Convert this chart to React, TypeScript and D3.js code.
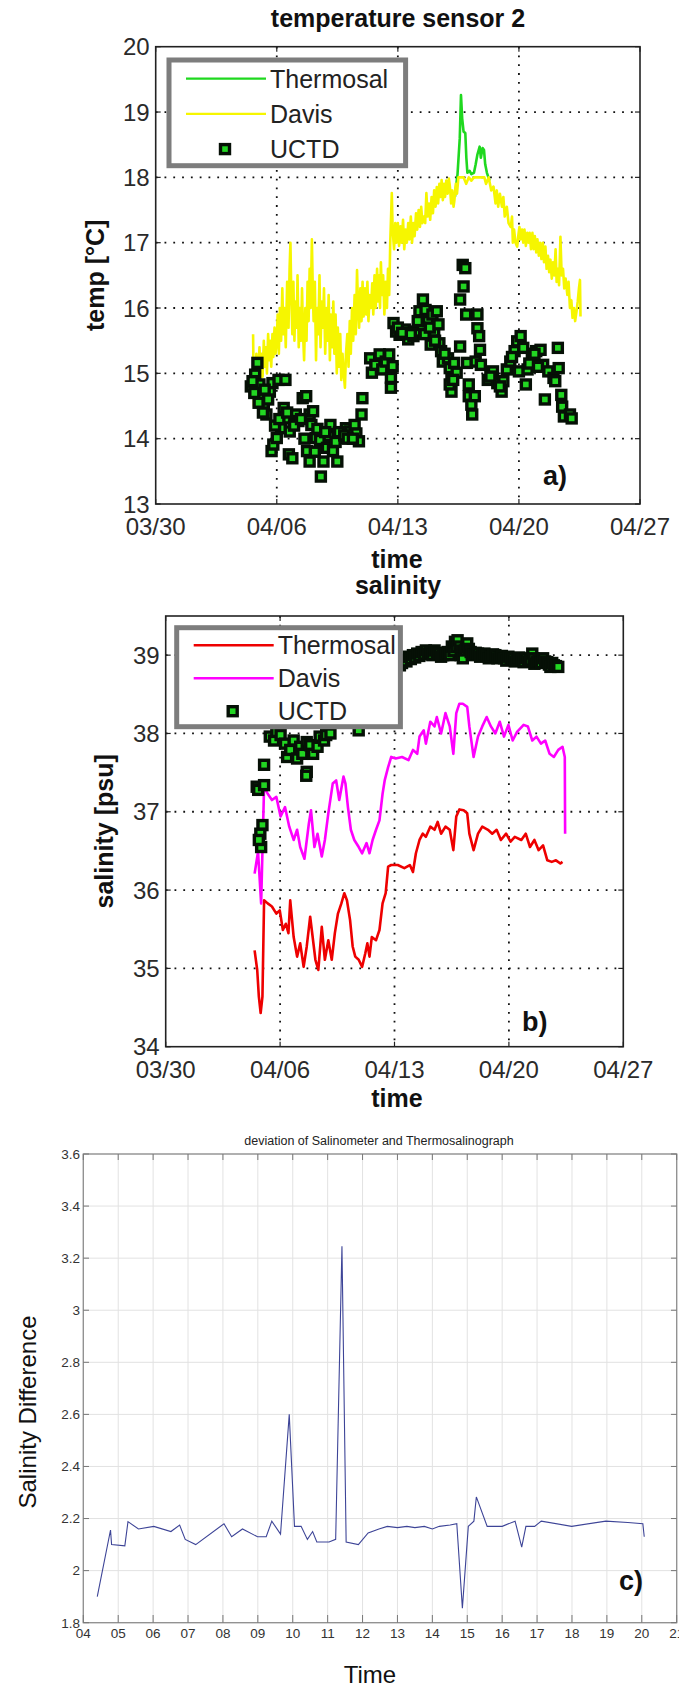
import * as d3 from "d3";

const FONT = "'Liberation Sans', Arial, Helvetica, sans-serif";

// shared date axis (day of April 2011, -1 = 03/30)
const dateTicks = [-1, 6, 13, 20, 27];
const dateLabels = ["03/30", "04/06", "04/13", "04/20", "04/27"];

const tempTicks = [13, 14, 15, 16, 17, 18, 19, 20];
const salTicks = [34, 35, 36, 37, 38, 39];
const diffTicks = [1.8, 2, 2.2, 2.4, 2.6, 2.8, 3, 3.2, 3.4, 3.6];
const diffTickLabels = ["1.8", "2", "2.2", "2.4", "2.6", "2.8", "3", "3.2", "3.4", "3.6"];
const dayTicks = [4, 5, 6, 7, 8, 9, 10, 11, 12, 13, 14, 15, 16, 17, 18, 19, 20, 21];
const dayLabels = ["04", "05", "06", "07", "08", "09", "10", "11", "12", "13", "14", "15", "16", "17", "18", "19", "20", "21"];

// a) temperature
const thermosalTemp: [number, number][] = [
  [16.3, 17.7], [16.45, 18.05], [16.58, 18.6], [16.65, 19.26], [16.72, 18.9], [16.8, 18.7],
  [16.9, 18.68], [16.96, 18.3], [17.02, 18.07], [17.15, 18.1], [17.25, 18.05], [17.4, 18.07],
  [17.5, 18.2], [17.6, 18.35], [17.73, 18.47], [17.8, 18.3], [17.9, 18.45], [17.98, 18.42],
  [18.05, 18.2], [18.15, 18.07], [18.3, 17.95],
];

const davisTemp: [number, number][] = [
  [4.63, 15.6], [4.68, 14.5], [4.72, 15.1], [4.76, 14.7], [4.82, 15.3], [4.86, 14.8], [4.92, 15.0],
  [5.0, 15.4], [5.05, 14.9], [5.12, 15.3], [5.18, 14.95], [5.25, 15.5], [5.3, 15.1], [5.37, 15.4],
  [5.43, 15.0], [5.5, 15.6], [5.56, 15.2], [5.62, 15.5], [5.68, 15.1], [5.75, 15.6], [5.8, 15.25],
  [5.87, 15.7], [5.93, 15.3], [6.0, 15.5], [6.05, 15.9], [6.12, 15.3], [6.18, 16.0], [6.25, 15.5],
  [6.32, 16.3], [6.38, 15.6], [6.45, 16.0], [6.52, 15.4], [6.6, 16.4], [6.68, 15.7], [6.74, 16.6],
  [6.79, 17.0], [6.84, 16.2], [6.9, 15.6], [6.96, 16.4], [7.02, 15.5], [7.08, 16.1], [7.15, 15.7],
  [7.2, 16.5], [7.27, 15.4], [7.33, 16.0], [7.4, 15.5], [7.46, 16.3], [7.52, 15.6], [7.58, 15.2],
  [7.65, 16.0], [7.72, 15.5], [7.78, 16.4], [7.84, 15.8], [7.9, 16.6], [7.96, 16.0], [8.03, 17.05],
  [8.08, 16.3], [8.13, 15.8], [8.2, 16.4], [8.27, 15.2], [8.33, 16.0], [8.4, 15.6], [8.47, 16.5],
  [8.53, 15.4], [8.6, 16.1], [8.67, 15.7], [8.73, 16.3], [8.8, 15.3], [8.87, 16.0], [8.93, 15.5],
  [9.0, 16.2], [9.07, 15.2], [9.13, 15.9], [9.2, 15.4], [9.27, 16.1], [9.33, 15.3], [9.4, 15.9],
  [9.47, 15.0], [9.53, 15.7], [9.6, 15.1], [9.67, 15.6], [9.73, 14.9], [9.8, 15.3], [9.87, 15.0],
  [9.94, 14.78], [10.0, 15.3], [10.08, 15.6], [10.15, 15.1], [10.22, 15.8], [10.28, 15.3],
  [10.35, 16.0], [10.42, 15.5], [10.5, 16.2], [10.57, 15.6], [10.64, 16.58], [10.7, 16.0],
  [10.76, 15.7], [10.83, 16.3], [10.9, 15.8], [10.96, 16.4], [11.02, 15.87], [11.1, 16.3],
  [11.17, 15.9], [11.24, 16.4], [11.3, 15.8], [11.37, 16.2], [11.45, 16.0], [11.52, 16.38],
  [11.58, 15.9], [11.65, 16.5], [11.72, 16.0], [11.8, 16.6], [11.86, 16.1], [11.92, 16.5],
  [11.97, 16.0], [12.02, 16.7], [12.08, 16.2], [12.15, 16.5], [12.22, 15.9], [12.3, 16.4],
  [12.37, 16.0], [12.43, 16.6], [12.5, 16.2], [12.56, 17.0], [12.65, 17.76], [12.7, 17.2],
  [12.78, 16.9], [12.85, 17.3], [12.92, 17.0], [13.0, 17.3], [13.07, 16.95], [13.15, 17.25],
  [13.22, 17.0], [13.3, 17.35], [13.37, 16.9], [13.45, 17.2], [13.52, 17.0], [13.6, 17.3],
  [13.67, 17.05], [13.75, 17.4], [13.82, 17.0], [13.9, 17.3], [13.97, 17.1], [14.05, 17.45],
  [14.12, 17.2], [14.2, 17.5], [14.28, 17.24], [14.35, 17.55], [14.42, 17.3], [14.5, 17.4],
  [14.58, 17.3], [14.65, 17.76], [14.72, 17.4], [14.8, 17.6], [14.87, 17.35], [14.95, 17.7],
  [15.03, 17.45], [15.1, 17.8], [15.18, 17.55], [15.25, 17.85], [15.33, 17.6], [15.4, 17.9],
  [15.47, 17.7], [15.53, 17.96], [15.6, 17.65], [15.67, 17.9], [15.73, 17.7], [15.8, 17.95],
  [15.88, 17.75], [15.95, 17.98], [16.01, 17.86], [16.08, 17.6], [16.15, 17.8], [16.22, 17.55],
  [16.27, 17.65], [16.35, 17.9], [16.42, 17.75], [16.5, 18.0], [16.6, 18.0], [16.8, 18.0],
  [16.95, 17.9], [17.1, 18.0], [17.25, 17.95], [17.4, 18.0], [17.6, 18.0], [17.8, 18.0],
  [18.0, 18.0], [18.1, 17.9], [18.25, 18.0], [18.4, 17.8], [18.53, 17.86], [18.65, 17.6],
  [18.72, 17.8], [18.8, 17.55], [18.9, 17.75], [19.02, 17.55], [19.1, 17.7], [19.18, 17.4],
  [19.3, 17.55], [19.4, 17.3], [19.53, 17.24], [19.6, 17.4], [19.65, 17.0], [19.72, 17.2],
  [19.8, 17.0], [19.9, 16.94], [19.96, 17.1], [20.03, 17.24], [20.1, 17.05], [20.18, 17.2],
  [20.25, 17.0], [20.32, 17.2], [20.4, 16.95], [20.48, 17.15], [20.55, 17.0], [20.62, 17.15],
  [20.7, 16.9], [20.78, 17.15], [20.85, 16.9], [20.92, 17.1], [21.0, 16.85], [21.07, 17.05],
  [21.15, 16.8], [21.22, 17.0], [21.3, 16.75], [21.38, 17.0], [21.45, 16.7], [21.53, 16.94],
  [21.6, 16.6], [21.68, 16.8], [21.75, 16.55], [21.82, 16.74], [21.9, 16.45], [21.97, 16.7],
  [22.05, 16.5], [22.12, 16.9], [22.18, 16.4], [22.25, 16.6], [22.32, 16.35], [22.4, 17.09],
  [22.47, 16.5], [22.55, 16.6], [22.62, 16.3], [22.7, 16.45], [22.8, 16.2], [22.87, 16.4],
  [22.95, 16.0], [23.03, 16.12], [23.1, 15.85], [23.18, 16.0], [23.25, 15.8], [23.33, 15.95],
  [23.4, 16.1], [23.47, 16.3], [23.53, 16.43], [23.56, 15.87],
];

const uctdTemp: [number, number][] = [
  [4.88, 15.16], [4.75, 14.98], [4.5, 14.8], [5.0, 14.83], [4.6, 14.88], [5.1, 14.62], [5.25, 14.52],
  [5.4, 14.37], [5.6, 14.72], [5.75, 14.85], [6.1, 14.9], [6.5, 14.9], [5.7, 13.81], [5.8, 13.91],
  [6.0, 14.01], [6.25, 14.16], [6.4, 14.47], [6.5, 14.31], [6.75, 14.11], [6.7, 13.76], [6.9, 13.7],
  [7.1, 14.37], [7.25, 14.27], [7.5, 14.62], [7.7, 14.65], [7.9, 14.37], [8.0, 14.21], [7.75, 13.81],
  [7.9, 13.65], [8.25, 14.01], [8.5, 13.98], [8.55, 13.42], [8.7, 13.65], [8.9, 13.86], [9.0, 14.04],
  [9.25, 13.81], [9.5, 13.65], [9.75, 14.01], [10.0, 14.16], [10.25, 14.11], [10.5, 14.21],
  [10.6, 14.08], [10.75, 13.96], [10.9, 14.37], [10.95, 14.62], [8.1, 14.42], [9.1, 14.21],
  [5.9, 14.2], [6.15, 14.3], [6.6, 14.4], [7.0, 14.2], [7.4, 14.3], [7.6, 14.0], [8.2, 13.8],
  [8.35, 14.15], [8.8, 14.1], [9.4, 13.95], [9.6, 14.1], [9.9, 14.05], [10.1, 14.0], [10.4, 14.0],
  [4.7, 14.7], [4.95, 14.55], [5.2, 14.4], [5.5, 14.6], [5.3, 14.75],
  [11.4, 15.23], [11.5, 15.01], [11.7, 15.13], [11.95, 15.29], [12.1, 15.06], [12.3, 15.18],
  [12.5, 15.29], [12.6, 14.93], [12.7, 15.11], [12.6, 14.78], [12.75, 15.77], [12.9, 15.64],
  [13.1, 15.59], [13.4, 15.67], [13.6, 15.52], [13.9, 15.57], [14.0, 15.64], [14.25, 15.95],
  [14.45, 16.13], [14.6, 15.97], [14.4, 15.74], [14.75, 15.8], [15.0, 15.9], [15.1, 15.64],
  [15.25, 15.95], [14.9, 15.44], [15.4, 15.46], [15.5, 15.34], [15.6, 15.18], [15.9, 15.23],
  [16.0, 15.08], [16.1, 14.93], [16.1, 14.72], [16.0, 14.83], [16.25, 15.16], [16.4, 15.01],
  [16.6, 15.41], [16.6, 16.13], [16.75, 16.66], [16.9, 16.61], [16.8, 16.33], [16.95, 15.9],
  [17.0, 15.16], [17.1, 14.83], [17.1, 14.65], [17.25, 14.52], [17.3, 14.37], [17.45, 14.65],
  [17.5, 15.18], [17.6, 15.9], [17.6, 15.69], [17.75, 15.36], [17.8, 15.13], [17.7, 15.57],
  [13.0, 15.7], [13.25, 15.62], [13.75, 15.6], [14.15, 15.8], [14.55, 15.6], [14.85, 15.7],
  [15.15, 15.5], [15.35, 15.75], [15.7, 15.3], [16.2, 14.9],
  [18.2, 14.9], [18.5, 15.03], [18.75, 14.85], [19.0, 14.72], [19.1, 14.88], [19.3, 15.06],
  [19.5, 15.18], [19.75, 15.34], [19.9, 15.49], [20.1, 15.57], [20.25, 15.39], [20.0, 15.03],
  [20.4, 14.83], [20.5, 15.06], [20.75, 15.23], [21.0, 15.34], [21.25, 15.36], [21.4, 15.13],
  [21.5, 14.6], [21.7, 15.03], [22.0, 14.93], [22.1, 14.88], [22.25, 15.39], [22.3, 15.08],
  [22.45, 14.67], [22.5, 14.49], [22.6, 14.34], [22.95, 14.37], [23.05, 14.31],
  [18.35, 14.95], [18.9, 14.8], [19.6, 15.25], [20.6, 15.15], [20.9, 15.3], [21.1, 15.1],
];

// b) salinity
const thermosalSal: [number, number][] = [
  [4.44, 35.23], [4.6, 34.98], [4.7, 34.64], [4.81, 34.43], [4.92, 34.64], [5.02, 35.87],
  [5.24, 35.83], [5.5, 35.79], [5.77, 35.7], [5.98, 35.74], [6.17, 35.49], [6.35, 35.57],
  [6.51, 35.45], [6.62, 35.87], [6.83, 35.4], [7.04, 35.15], [7.23, 35.32], [7.44, 35.02],
  [7.63, 35.28], [7.84, 35.66], [7.94, 35.49], [8.16, 35.11], [8.34, 34.98], [8.55, 35.53],
  [8.74, 35.11], [8.95, 35.36], [9.16, 35.11], [9.35, 35.45], [9.54, 35.7], [9.75, 35.83],
  [9.93, 35.96], [10.09, 35.87], [10.28, 35.62], [10.44, 35.28], [10.6, 35.15], [10.81, 35.11],
  [11.02, 35.02], [11.21, 35.19], [11.34, 35.32], [11.47, 35.15], [11.61, 35.4], [11.87, 35.36],
  [12.08, 35.49], [12.27, 35.83], [12.46, 35.96], [12.61, 36.3], [12.8, 36.32], [13.2, 36.32],
  [13.6, 36.28], [13.94, 36.32], [14.13, 36.23], [14.31, 36.47], [14.53, 36.64], [14.73, 36.72],
  [14.92, 36.68], [15.19, 36.81], [15.45, 36.77], [15.64, 36.87], [15.85, 36.72], [16.12, 36.81],
  [16.38, 36.77], [16.6, 36.51], [16.78, 36.94], [16.97, 37.03], [17.23, 37.02], [17.45, 36.98],
  [17.58, 36.72], [17.84, 36.51], [18.11, 36.72], [18.37, 36.81], [18.72, 36.77], [18.98, 36.72],
  [19.25, 36.77], [19.51, 36.64], [19.83, 36.72], [20.1, 36.62], [20.36, 36.68], [20.76, 36.64],
  [21.03, 36.72], [21.29, 36.55], [21.56, 36.64], [21.82, 36.51], [22.09, 36.57], [22.35, 36.38],
  [22.62, 36.36], [22.88, 36.38], [23.15, 36.34], [23.28, 36.36],
];

const davisSal: [number, number][] = [
  [4.44, 36.21], [4.65, 36.49], [4.84, 35.83], [5.02, 37.32], [5.24, 37.23], [5.5, 37.15],
  [5.77, 37.19], [6.03, 36.94], [6.3, 37.06], [6.56, 36.81], [6.83, 36.64], [7.04, 36.77],
  [7.23, 36.55], [7.49, 36.4], [7.76, 36.85], [7.89, 37.02], [8.1, 36.55], [8.29, 36.72],
  [8.55, 36.43], [8.74, 36.64], [8.95, 36.98], [9.22, 37.36], [9.43, 37.4], [9.62, 37.15],
  [9.88, 37.45], [10.0, 37.36], [10.15, 37.06], [10.33, 36.77], [10.54, 36.64], [10.81, 36.55],
  [11.02, 36.47], [11.29, 36.6], [11.47, 36.47], [11.66, 36.64], [11.87, 36.77], [12.08, 36.89],
  [12.27, 37.23], [12.4, 37.4], [12.61, 37.57], [12.8, 37.7], [13.07, 37.68], [13.46, 37.7],
  [13.86, 37.66], [14.13, 37.79], [14.39, 37.74], [14.53, 37.96], [14.79, 38.04], [14.92, 37.87],
  [15.19, 38.15], [15.45, 38.09], [15.59, 38.21], [15.85, 38.0], [16.12, 38.26], [16.38, 38.09],
  [16.6, 37.74], [16.78, 38.26], [16.97, 38.38], [17.18, 38.38], [17.45, 38.34], [17.58, 38.09],
  [17.84, 37.7], [18.11, 37.96], [18.37, 38.09], [18.64, 38.21], [18.9, 38.09], [19.17, 38.0],
  [19.44, 38.15], [19.7, 37.96], [19.97, 38.11], [20.23, 37.91], [20.5, 38.02], [20.9, 38.11],
  [21.16, 38.09], [21.43, 37.91], [21.69, 37.96], [21.96, 37.87], [22.22, 37.91], [22.49, 37.74],
  [22.75, 37.7], [23.02, 37.79], [23.28, 37.83], [23.42, 37.7], [23.44, 36.72],
];

const uctdSal: [number, number][] = [
  [4.57, 37.32], [4.66, 37.28], [5.02, 37.34], [5.02, 37.6], [4.92, 36.83], [4.79, 36.72],
  [4.84, 36.55], [4.7, 36.64], [7.63, 37.51], [7.6, 37.46], [5.37, 37.96], [5.63, 37.91],
  [5.77, 38.02], [6.03, 37.98], [6.3, 37.87], [6.43, 37.7], [6.62, 37.79], [6.83, 37.91],
  [7.04, 37.68], [7.23, 37.83], [7.36, 37.74], [7.63, 37.89], [7.84, 37.85], [8.02, 37.74],
  [8.29, 37.83], [8.42, 37.96], [8.69, 37.91], [8.82, 37.98], [9.08, 38.0], [10.81, 38.04],
  [13.33, 38.87], [13.46, 38.9], [13.6, 38.94], [13.73, 38.92], [13.86, 38.98], [14.0, 38.95],
  [14.13, 39.0], [14.26, 38.97], [14.39, 39.02], [14.52, 38.99], [14.66, 39.04], [14.79, 39.01],
  [14.92, 39.06], [15.05, 39.02], [15.19, 39.04], [15.32, 39.0], [15.45, 39.06], [15.58, 39.03],
  [15.72, 39.02], [15.85, 38.98], [15.98, 39.0], [16.12, 39.02], [16.25, 39.04], [16.38, 39.0],
  [16.51, 39.11], [16.6, 39.05], [16.7, 39.17], [16.78, 39.1], [16.86, 39.19], [16.97, 39.11],
  [17.05, 39.0], [17.12, 39.06], [17.18, 38.96], [17.31, 39.06], [17.38, 39.1], [17.45, 39.15],
  [17.55, 39.08], [17.66, 39.04], [17.75, 39.01], [17.84, 39.0], [17.97, 39.03], [18.11, 39.02],
  [18.24, 38.98], [18.37, 39.0], [18.5, 39.02], [18.64, 38.99], [18.77, 38.96], [18.9, 38.98],
  [19.03, 39.01], [19.17, 39.0], [19.3, 38.96], [19.44, 38.97], [19.57, 38.99], [19.7, 38.96],
  [19.84, 38.93], [19.97, 38.98], [20.1, 38.95], [20.23, 38.96], [20.36, 38.92], [20.5, 38.94],
  [20.63, 38.97], [20.76, 38.94], [20.9, 38.91], [21.03, 38.96], [21.16, 38.92], [21.29, 38.93],
  [21.43, 39.02], [21.5, 38.96], [21.56, 38.89], [21.69, 38.92], [21.82, 38.94], [21.96, 38.9],
  [22.09, 38.96], [22.22, 38.92], [22.35, 38.91], [22.45, 38.88], [22.54, 38.85], [22.65, 38.9],
  [22.75, 38.87], [22.88, 38.86], [23.02, 38.85],
];

// c) salinometer - thermosalinograph
const salDiff: [number, number][] = [
  [4.4, 1.9], [4.78, 2.156], [4.81, 2.1], [5.19, 2.095], [5.28, 2.188], [5.58, 2.16], [6.02, 2.17],
  [6.51, 2.15], [6.76, 2.175], [6.92, 2.12], [7.22, 2.1], [8.03, 2.18], [8.25, 2.13], [8.56, 2.16],
  [8.99, 2.13], [9.24, 2.13], [9.4, 2.19], [9.65, 2.14], [9.9, 2.6], [10.05, 2.17], [10.24, 2.17],
  [10.42, 2.12], [10.57, 2.15], [10.69, 2.11], [11.04, 2.11], [11.23, 2.12], [11.41, 3.246],
  [11.53, 2.11], [11.88, 2.1], [12.16, 2.145], [12.47, 2.16], [12.71, 2.17], [13.0, 2.165],
  [13.27, 2.17], [13.5, 2.165], [13.77, 2.17], [14.0, 2.16], [14.2, 2.17], [14.51, 2.175],
  [14.7, 2.18], [14.86, 1.856], [15.03, 2.17], [15.19, 2.19], [15.26, 2.283], [15.57, 2.17],
  [16.0, 2.17], [16.37, 2.19], [16.56, 2.09], [16.68, 2.17], [16.93, 2.17], [17.12, 2.19],
  [17.99, 2.17], [18.97, 2.19], [19.6, 2.185], [20.03, 2.18], [20.07, 2.13],
];

const lineGen = (x: d3.ScaleLinear<number, number>, y: d3.ScaleLinear<number, number>) =>
  d3.line<[number, number]>().x((d) => x(d[0])).y((d) => y(d[1]));

function Square({ cx, cy }: { cx: number; cy: number }) {
  return <rect x={cx - 4.5} y={cy - 4.5} width={9} height={9} fill="#22d622" stroke="#061006" strokeWidth={3.4} />;
}

function MatAxes({ x, y, yTicks, title, titleY, xlabelY, ylabel, ylabelX, tag, tagX, tagY, children, legend }: any) {
  const [x0, x1] = x.range();
  const [y0, y1] = y.range();
  const cx = 398;
  return (
    <g fontFamily={FONT}>
      {dateTicks.slice(1, -1).map((t) => (
        <line key={"gx" + t} x1={x(t)} x2={x(t)} y1={y1} y2={y0} stroke="#111" strokeWidth={1.8} strokeDasharray="1.8 7" />
      ))}
      {yTicks.filter((t: number) => y(t) < y0 - 1 && y(t) > y1 + 1).map((t: number) => (
        <line key={"gy" + t} x1={x0} x2={x1} y1={y(t)} y2={y(t)} stroke="#111" strokeWidth={1.8} strokeDasharray="1.8 7" />
      ))}
      {children}
      <rect x={x0} y={y1} width={x1 - x0} height={y0 - y1} fill="none" stroke="#222" strokeWidth={1.6} />
      {dateTicks.map((t) => (
        <g key={"tx" + t}>
          <line x1={x(t)} x2={x(t)} y1={y0} y2={y0 - 5} stroke="#222" strokeWidth={1.2} />
          <line x1={x(t)} x2={x(t)} y1={y1} y2={y1 + 5} stroke="#222" strokeWidth={1.2} />
        </g>
      ))}
      {yTicks.map((t: number) => (
        <g key={"ty" + t}>
          <line x1={x0} x2={x0 + 5} y1={y(t)} y2={y(t)} stroke="#222" strokeWidth={1.2} />
          <line x1={x1} x2={x1 - 5} y1={y(t)} y2={y(t)} stroke="#222" strokeWidth={1.2} />
        </g>
      ))}
      {dateTicks.map((t, i) => (
        <text key={"lx" + t} x={x(t)} y={y0 + 31} textAnchor="middle" fontSize={24} fill="#2a2a2a">
          {dateLabels[i]}
        </text>
      ))}
      {yTicks.map((t: number) => (
        <text key={"ly" + t} x={x0 - 6} y={y(t)} dy="0.36em" textAnchor="end" fontSize={24} fill="#2a2a2a">
          {t}
        </text>
      ))}
      <text x={cx} y={titleY} textAnchor="middle" fontSize={25} fontWeight="bold" fill="#111">{title}</text>
      <text x={cx - 1} y={xlabelY} textAnchor="middle" fontSize={25} fontWeight="bold" fill="#111">time</text>
      <text transform={`translate(${ylabelX},${(y0 + y1) / 2}) rotate(-90)`} textAnchor="middle" fontSize={25} fontWeight="bold" fill="#111">
        {ylabel}
      </text>
      <text x={tagX} y={tagY} fontSize={27} fontWeight="bold" fill="#111">{tag}</text>
      {legend}
    </g>
  );
}

function Legend({ left, top, right, bottom, items }: any) {
  const rowH = (bottom - top) / 3;
  return (
    <g fontFamily={FONT}>
      <rect x={left} y={top} width={right - left} height={bottom - top} fill="#fff" stroke="#7d7d7d" strokeWidth={5} />
      {items.map((it: any, i: number) => {
        const cy = top + rowH * (i + 0.5) + 1;
        return (
          <g key={it.name}>
            {it.color ? (
              <line x1={left + 17} x2={left + 97} y1={cy} y2={cy} stroke={it.color} strokeWidth={2.4} />
            ) : (
              <Square cx={left + 56} cy={cy} />
            )}
            <text x={left + 101} y={cy} dy="0.36em" fontSize={25} fill="#222">{it.name}</text>
          </g>
        );
      })}
    </g>
  );
}

export default function App() {
  // panel a
  const xa = d3.scaleLinear().domain([-1, 27]).range([155.7, 640]);
  const ya = d3.scaleLinear().domain([13, 20]).range([504, 46.7]);
  const la = lineGen(xa, ya);
  // panel b
  const xb = d3.scaleLinear().domain([-1, 27]).range([165.7, 623.3]);
  const yb = d3.scaleLinear().domain([34, 39.5]).range([1046.7, 616]);
  const lb = lineGen(xb, yb);
  // panel c
  const xc = d3.scaleLinear().domain([4, 21]).range([83.3, 676.7]);
  const yc = d3.scaleLinear().domain([1.8, 3.6]).range([1622.7, 1154]);
  const lc = lineGen(xc, yc);

  return (
    <svg width={679} height={1686} style={{ position: "absolute", left: 0, top: 0, background: "#fff" }}>
      <rect width={679} height={1686} fill="#fff" />

      <MatAxes
        x={xa} y={ya} yTicks={tempTicks}
        title="temperature sensor 2" titleY={27}
        xlabelY={568} ylabel="temp [°C]" ylabelX={104}
        tag="a)" tagX={543} tagY={485}
        legend={
          <Legend left={169} top={60} right={405.6} bottom={165.7}
            items={[{ name: "Thermosal", color: "#1fd81f" }, { name: "Davis", color: "#f6f600" }, { name: "UCTD" }]} />
        }
      >
        <path d={la(thermosalTemp) ?? ""} fill="none" stroke="#1fd81f" strokeWidth={2.6} strokeLinejoin="round" />
        <path d={la(davisTemp) ?? ""} fill="none" stroke="#f6f600" strokeWidth={2.6} strokeLinejoin="round" />
        {uctdTemp.map((d, i) => <Square key={i} cx={xa(d[0])} cy={ya(d[1])} />)}
      </MatAxes>

      <MatAxes
        x={xb} y={yb} yTicks={salTicks}
        title="salinity" titleY={594}
        xlabelY={1107} ylabel="salinity [psu]" ylabelX={113}
        tag="b)" tagX={522} tagY={1031}
        legend={
          <Legend left={176.7} top={627.7} right={400.4} bottom={726.7}
            items={[{ name: "Thermosal", color: "#ee0000" }, { name: "Davis", color: "#ff00ff" }, { name: "UCTD" }]} />
        }
      >
        <path d={lb(thermosalSal) ?? ""} fill="none" stroke="#ee0000" strokeWidth={2.6} strokeLinejoin="round" />
        <path d={lb(davisSal) ?? ""} fill="none" stroke="#ff00ff" strokeWidth={2.6} strokeLinejoin="round" />
        {uctdSal.map((d, i) => <Square key={i} cx={xb(d[0])} cy={yb(d[1])} />)}
      </MatAxes>

      <g fontFamily={FONT}>
        {dayTicks.map((t) => (
          <line key={"cgx" + t} x1={xc(t)} x2={xc(t)} y1={1154} y2={1622.7} stroke="#e2e2e2" strokeWidth={1} />
        ))}
        {diffTicks.map((t) => (
          <line key={"cgy" + t} x1={83.3} x2={676.7} y1={yc(t)} y2={yc(t)} stroke="#e2e2e2" strokeWidth={1} />
        ))}
        <path d={lc(salDiff) ?? ""} fill="none" stroke="#3d4497" strokeWidth={1.1} />
        <rect x={83.3} y={1154} width={676.7 - 83.3} height={1622.7 - 1154} fill="none" stroke="#8e8e8e" strokeWidth={1.3} />
        {dayTicks.map((t) => (
          <g key={"ctx" + t}>
            <line x1={xc(t)} x2={xc(t)} y1={1622.7} y2={1615} stroke="#777" strokeWidth={1} />
            <line x1={xc(t)} x2={xc(t)} y1={1154} y2={1160} stroke="#777" strokeWidth={1} />
          </g>
        ))}
        {diffTicks.map((t) => (
          <g key={"cty" + t}>
            <line x1={83.3} x2={89} y1={yc(t)} y2={yc(t)} stroke="#777" strokeWidth={1} />
            <line x1={676.7} x2={671} y1={yc(t)} y2={yc(t)} stroke="#777" strokeWidth={1} />
          </g>
        ))}
        {dayTicks.map((t, i) => (
          <text key={"clx" + t} x={xc(t)} y={1638} textAnchor="middle" fontSize={13.5} fill="#333">{dayLabels[i]}</text>
        ))}
        {diffTicks.map((t, i) => (
          <text key={"cly" + t} x={80} y={yc(t)} dy="0.36em" textAnchor="end" fontSize={13.5} fill="#333">{diffTickLabels[i]}</text>
        ))}
        <text x={379} y={1145} textAnchor="middle" fontSize={12.5} fill="#222">deviation of Salinometer and Thermosalinograph</text>
        <text x={370} y={1683} textAnchor="middle" fontSize={24} fill="#111">Time</text>
        <text transform="translate(36,1412) rotate(-90)" textAnchor="middle" fontSize={24} fill="#111">Salinity Difference</text>
        <text x={619} y={1590} fontSize={27} fontWeight="bold" fill="#111">c)</text>
      </g>
    </svg>
  );
}
